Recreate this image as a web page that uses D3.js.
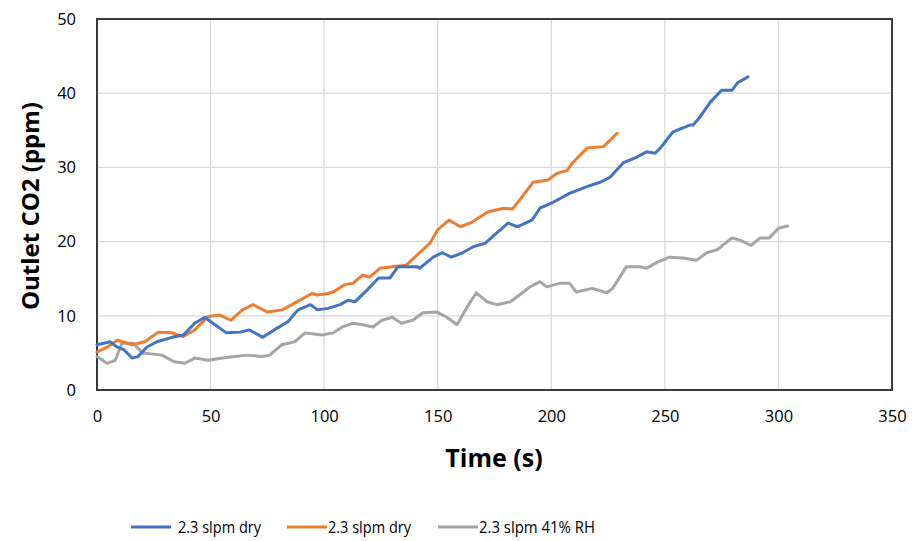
<!DOCTYPE html>
<html>
<head>
<meta charset="utf-8">
<script src="https://cdn.jsdelivr.net/npm/d3@7"></script>
<style>
  body { margin: 0; background: #fff; }
  text { font-family: "Open Sans", "Noto Sans", sans-serif; }
</style>
</head>
<body>
<script>
// series 1 - blue, 2.3 slpm dry
var blueT = [0, 3, 5.7, 8.8, 12, 15.4, 18, 22, 26.4, 33, 38, 43, 47.5, 51, 57, 63, 67, 73, 78, 84, 88.5, 94, 97, 101.7, 107, 110.5, 113.6, 119, 124, 129, 132.5, 141, 142, 148, 152, 156, 161, 165.6, 171, 175, 181, 185, 191.5, 195, 200.8, 208, 215.7, 221.5, 226, 231.6, 237.7, 242, 245.7, 248, 253.6, 261, 262.4, 265.5, 270, 275, 279.6, 282, 286.6];
var blueV = [6.1, 6.3, 6.5, 5.8, 5.4, 4.3, 4.5, 5.8, 6.5, 7.1, 7.4, 9.0, 9.8, 9.0, 7.7, 7.8, 8.1, 7.1, 8.1, 9.2, 10.8, 11.5, 10.8, 11.0, 11.5, 12.1, 11.9, 13.5, 15.1, 15.1, 16.6, 16.6, 16.4, 17.9, 18.5, 17.9, 18.5, 19.3, 19.8, 20.9, 22.5, 22.0, 22.9, 24.5, 25.3, 26.5, 27.4, 28.0, 28.7, 30.6, 31.4, 32.1, 31.9, 32.6, 34.8, 35.7, 35.7, 36.8, 38.8, 40.4, 40.4, 41.4, 42.2];

// series 2 - orange, 2.3 slpm dry
var orangeT = [0, 4, 9, 15.5, 21, 27, 33, 38, 43, 49, 54, 59, 64, 68.7, 75, 81.5, 87, 94.6, 97, 101.7, 104, 109, 112.7, 117, 120, 124.6, 130, 136, 142, 146.6, 150, 155, 160, 165, 172, 179, 183, 186, 192, 198.5, 202.5, 207, 209.6, 215.7, 223, 229];
var orangeV = [5.1, 5.7, 6.7, 6.1, 6.5, 7.8, 7.7, 7.2, 8.1, 9.9, 10.1, 9.4, 10.8, 11.5, 10.5, 10.8, 11.7, 13.0, 12.8, 13.0, 13.2, 14.2, 14.4, 15.5, 15.2, 16.4, 16.6, 16.8, 18.5, 19.8, 21.6, 22.9, 22.0, 22.6, 24.0, 24.5, 24.4, 25.6, 28.0, 28.3, 29.2, 29.6, 30.7, 32.6, 32.8, 34.6];

// series 3 - gray, 2.3 slpm 41% RH
var grayT = [0, 4.4, 8, 11, 16, 20, 28.6, 34, 38.7, 43, 49, 55, 60.7, 66.5, 72.6, 76, 81.4, 87, 91.6, 99, 104, 108, 112.7, 117, 121.5, 125.5, 130, 134, 139, 143.5, 149.7, 154, 158.5, 163, 167, 171.7, 176, 182, 186, 190.6, 195, 198, 204, 208, 211, 218, 224.5, 227, 233, 239, 242, 246.5, 252, 258, 264, 268.5, 273, 279.6, 283, 288, 292, 296, 300, 304];
var grayV = [4.5, 3.6, 4.0, 6.3, 6.3, 5.0, 4.7, 3.8, 3.6, 4.3, 4.0, 4.3, 4.5, 4.7, 4.5, 4.7, 6.1, 6.5, 7.7, 7.4, 7.7, 8.5, 9.0, 8.8, 8.5, 9.4, 9.8, 9.0, 9.4, 10.4, 10.5, 9.8, 8.8, 11.2, 13.1, 11.9, 11.5, 11.9, 12.8, 13.9, 14.6, 13.9, 14.4, 14.4, 13.2, 13.7, 13.1, 13.7, 16.6, 16.6, 16.4, 17.2, 17.9, 17.8, 17.5, 18.5, 18.9, 20.5, 20.2, 19.5, 20.5, 20.5, 21.8, 22.1];

var xTicks = [0, 50, 100, 150, 200, 250, 300, 350];
var yTicks = [0, 10, 20, 30, 40, 50];
var seriesNames = ["2.3 slpm dry", "2.3 slpm dry", "2.3 slpm 41% RH"];
var colors = ["#4472C4", "#ED7D31", "#A5A5A5"];

var series = [
  { name: seriesNames[0], color: colors[0], pts: blueT.map(function(t, i) { return { t: t, v: blueV[i] }; }) },
  { name: seriesNames[1], color: colors[1], pts: orangeT.map(function(t, i) { return { t: t, v: orangeV[i] }; }) },
  { name: seriesNames[2], color: colors[2], pts: grayT.map(function(t, i) { return { t: t, v: grayV[i] }; }) }
];

var W = 915, H = 541;
var plotL = 97, plotR = 892, plotT = 19, plotB = 390;

var svg = d3.select("body").append("svg")
  .attr("width", W)
  .attr("height", H);

var x = d3.scaleLinear().domain([0, 350]).range([plotL, plotR]);
var y = d3.scaleLinear().domain([0, 50]).range([plotB, plotT]);

// grid lines
svg.append("g").selectAll("line.vg")
  .data(xTicks).enter().append("line")
  .attr("x1", function(d) { return x(d); })
  .attr("x2", function(d) { return x(d); })
  .attr("y1", plotT).attr("y2", plotB)
  .attr("stroke", "#d9d9d9").attr("stroke-width", 1.3);

svg.append("g").selectAll("line.hg")
  .data(yTicks).enter().append("line")
  .attr("x1", plotL).attr("x2", plotR)
  .attr("y1", function(d) { return y(d); })
  .attr("y2", function(d) { return y(d); })
  .attr("stroke", "#d9d9d9").attr("stroke-width", 1.3);

// axes (labels only, no tick marks)
var xAxis = svg.append("g")
  .attr("transform", "translate(0," + plotB + ")")
  .call(d3.axisBottom(x).tickValues(xTicks).tickSize(0).tickPadding(20));
var yAxis = svg.append("g")
  .attr("transform", "translate(" + plotL + ",0)")
  .call(d3.axisLeft(y).tickValues(yTicks).tickSize(0).tickPadding(21));
[xAxis, yAxis].forEach(function(a) {
  a.select(".domain").remove();
  a.selectAll("text")
    .attr("font-family", "'Open Sans', sans-serif")
    .attr("font-size", "16.5px")
    .attr("fill", "#000");
});

// plot border
svg.append("rect")
  .attr("x", plotL).attr("y", plotT)
  .attr("width", plotR - plotL).attr("height", plotB - plotT)
  .attr("fill", "none")
  .attr("stroke", "#3a3a3a").attr("stroke-width", 2);

// lines
var line = d3.line()
  .x(function(d) { return x(d.t); })
  .y(function(d) { return y(d.v); })
  .curve(d3.curveLinear);

svg.append("g").selectAll("path.series")
  .data(series.slice().reverse()).enter().append("path")
  .attr("fill", "none")
  .attr("stroke", function(d) { return d.color; })
  .attr("stroke-width", 3)
  .attr("stroke-linejoin", "round")
  .attr("stroke-linecap", "round")
  .attr("d", function(d) { return line(d.pts); });

// axis titles
svg.append("text")
  .attr("x", 494)
  .attr("y", 467)
  .attr("text-anchor", "middle")
  .attr("font-size", "25px")
  .attr("font-weight", "bold")
  .text("Time (s)");

svg.append("text")
  .attr("transform", "translate(39,206) rotate(-90)")
  .attr("text-anchor", "middle")
  .attr("font-size", "24px")
  .attr("font-weight", "bold")
  .text("Outlet CO2 (ppm)");

// legend
var legendX = [131, 287, 438];
var legendW = [83, 83, 116];
var legend = svg.append("g");
series.forEach(function(s, i) {
  legend.append("line")
    .attr("x1", legendX[i]).attr("x2", legendX[i] + 40)
    .attr("y1", 527).attr("y2", 527)
    .attr("stroke", s.color).attr("stroke-width", 3);
  legend.append("text")
    .attr("x", legendX[i] + (i === 0 ? 47 : 41))
    .attr("y", 533)
    .attr("font-size", "16.5px")
    .attr("textLength", legendW[i])
    .attr("lengthAdjust", "spacingAndGlyphs")
    .attr("fill", "#000")
    .text(s.name);
});
</script>
</body>
</html>
